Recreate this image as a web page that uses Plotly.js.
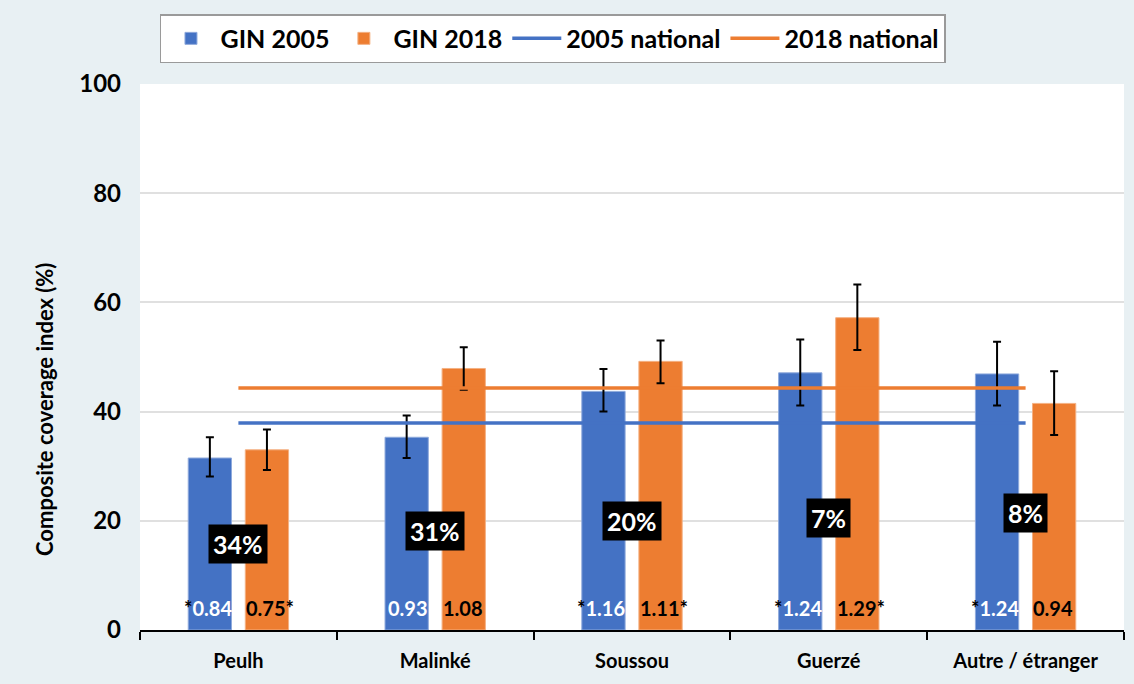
<!DOCTYPE html>
<html>
<head>
<meta charset="utf-8">
<script src="https://cdn.plot.ly/plotly-3.0.1.min.js"></script>
<style>html,body{margin:0;padding:0;background:#e8f0f3;}</style>
</head>
<body>
<div id="chart" style="width:1134px;height:684px;"></div>
<script>
// ---- data ----
const categories = ['Peulh', 'Malinké', 'Soussou', 'Guerzé', 'Autre / étranger'];
const gin2005 = [31.5, 35.3, 43.7, 47.1, 46.9];
const gin2005Upper = [35.3, 39.3, 47.8, 53.2, 52.8];
const gin2005Lower = [28.1, 31.5, 40.0, 41.1, 41.1];
const gin2018 = [33.0, 47.9, 49.2, 57.2, 41.5];
const gin2018Upper = [36.7, 51.8, 53.0, 63.3, 47.4];
const gin2018Lower = [29.3, 44.0, 45.2, 51.3, 35.7];
const national2005 = 37.9;
const national2018 = 44.3;
const shareLabels = ['34%', '31%', '20%', '7%', '8%'];
const ratio2005 = ['0.84', '0.93', '1.16', '1.24', '1.24'];
const ratio2005Star = [true, false, true, true, true];
const ratio2018 = ['0.75', '1.08', '1.11', '1.29', '0.94'];
const ratio2018Star = [true, false, true, true, false];
const yTitle = 'Composite coverage index (%)';

// ---- styling ----
const BLUE = '#4472C4';
const ORANGE = '#ED7D31';
const FONT = 'Lato, "Open Sans", sans-serif';
const barWidth = 0.22;
const off2005 = -0.255;
const off2018 = 0.035;
const shareLabelY = [15.7, 18.2, 19.9, 20.5, 21.5];
const ratioY = 4.0;

const plus05 = gin2005Upper.map((u, i) => +(u - gin2005[i]).toFixed(2));
const minus05 = gin2005Lower.map((l, i) => +(gin2005[i] - l).toFixed(2));
const plus18 = gin2018Upper.map((u, i) => +(u - gin2018[i]).toFixed(2));
const minus18 = gin2018Lower.map((l, i) => +(gin2018[i] - l).toFixed(2));

const errStyle = {type: 'data', symmetric: false, color: '#000', thickness: 2, width: 4};

const traces = [
  {
    type: 'bar', name: 'GIN 2005', x: categories, y: gin2005,
    width: barWidth, offset: off2005,
    marker: {color: BLUE, line: {color: '#8faadc', width: 1}},
    error_y: Object.assign({array: plus05, arrayminus: minus05}, errStyle),
    hoverinfo: 'y'
  },
  {
    type: 'bar', name: 'GIN 2018', x: categories, y: gin2018,
    width: barWidth, offset: off2018,
    marker: {color: ORANGE, line: {color: '#f4b183', width: 1}},
    error_y: Object.assign({array: plus18, arrayminus: minus18}, errStyle),
    hoverinfo: 'y'
  },
  {
    type: 'scatter', mode: 'lines', name: '2005 national',
    x: [categories[0], categories[categories.length - 1]],
    y: [national2005, national2005],
    line: {color: BLUE, width: 3.5}
  },
  {
    type: 'scatter', mode: 'lines', name: '2018 national',
    x: [categories[0], categories[categories.length - 1]],
    y: [national2018, national2018],
    line: {color: ORANGE, width: 3.5}
  }
];

const annotations = [];
categories.forEach((c, i) => {
  annotations.push({
    x: i, y: shareLabelY[i], xref: 'x', yref: 'y',
    text: shareLabels[i], showarrow: false,
    font: {family: FONT, size: 25, color: '#fff', weight: 'bold'},
    bgcolor: '#000', borderpad: 4, xanchor: 'center', yanchor: 'middle'
  });
  annotations.push({
    x: i + off2005 + barWidth, y: ratioY, xref: 'x', yref: 'y',
    text: (ratio2005Star[i] ? '<span style="color:#000">*</span>' : '') + ratio2005[i],
    showarrow: false, borderpad: 0,
    font: {family: FONT, size: 20, color: '#fff', weight: 'bold'},
    xanchor: 'right', yanchor: 'middle', xshift: 1
  });
  annotations.push({
    x: i + off2018, y: ratioY, xref: 'x', yref: 'y',
    text: ratio2018[i] + (ratio2018Star[i] ? '*' : ''),
    showarrow: false, borderpad: 0,
    font: {family: FONT, size: 20, color: '#000', weight: 'bold'},
    xanchor: 'left', yanchor: 'middle', xshift: 0
  });
});
annotations.push({
  x: -0.0965, y: 0.403, xref: 'paper', yref: 'paper',
  text: yTitle, textangle: -90, showarrow: false,
  font: {family: FONT, size: 22, color: '#000', weight: 'bold'},
  xanchor: 'center', yanchor: 'middle'
});

const layout = {
  width: 1134, height: 684,
  margin: {l: 140, r: 10, t: 84, b: 54},
  paper_bgcolor: '#e8f0f3',
  plot_bgcolor: '#ffffff',
  font: {family: FONT, color: '#000'},
  showlegend: true,
  legend: {
    orientation: 'h', x: 0.0203, xanchor: 'left', y: 1.128, yanchor: 'top',
    bgcolor: '#ffffff', bordercolor: '#9a9a9a', borderwidth: 1.5,
    font: {family: FONT, size: 25, color: '#000', weight: 'bold'},
    itemwidth: 49, traceorder: 'normal'
  },
  xaxis: {
    type: 'category', range: [-0.5, 4.5],
    showline: true, linecolor: '#000', linewidth: 2,
    ticks: 'outside', tickson: 'boundaries', ticklen: 8, tickwidth: 2, tickcolor: '#000',
    showgrid: false,
    tickfont: {family: FONT, size: 20, color: '#000', weight: 'bold'},
    ticklabelstandoff: 12,
    fixedrange: true
  },
  yaxis: {
    range: [0, 100], tickvals: [0, 20, 40, 60, 80, 100],
    showline: false, zeroline: false,
    gridcolor: '#e0e0e0', gridwidth: 2,
    tickfont: {family: FONT, size: 24, color: '#000', weight: 'bold'},
    ticklabelstandoff: 18,
    fixedrange: true
  },
  bargap: 0.49,
  annotations: annotations
};

Plotly.newPlot('chart', traces, layout, {displayModeBar: false, staticPlot: true});
</script>
</body>
</html>
